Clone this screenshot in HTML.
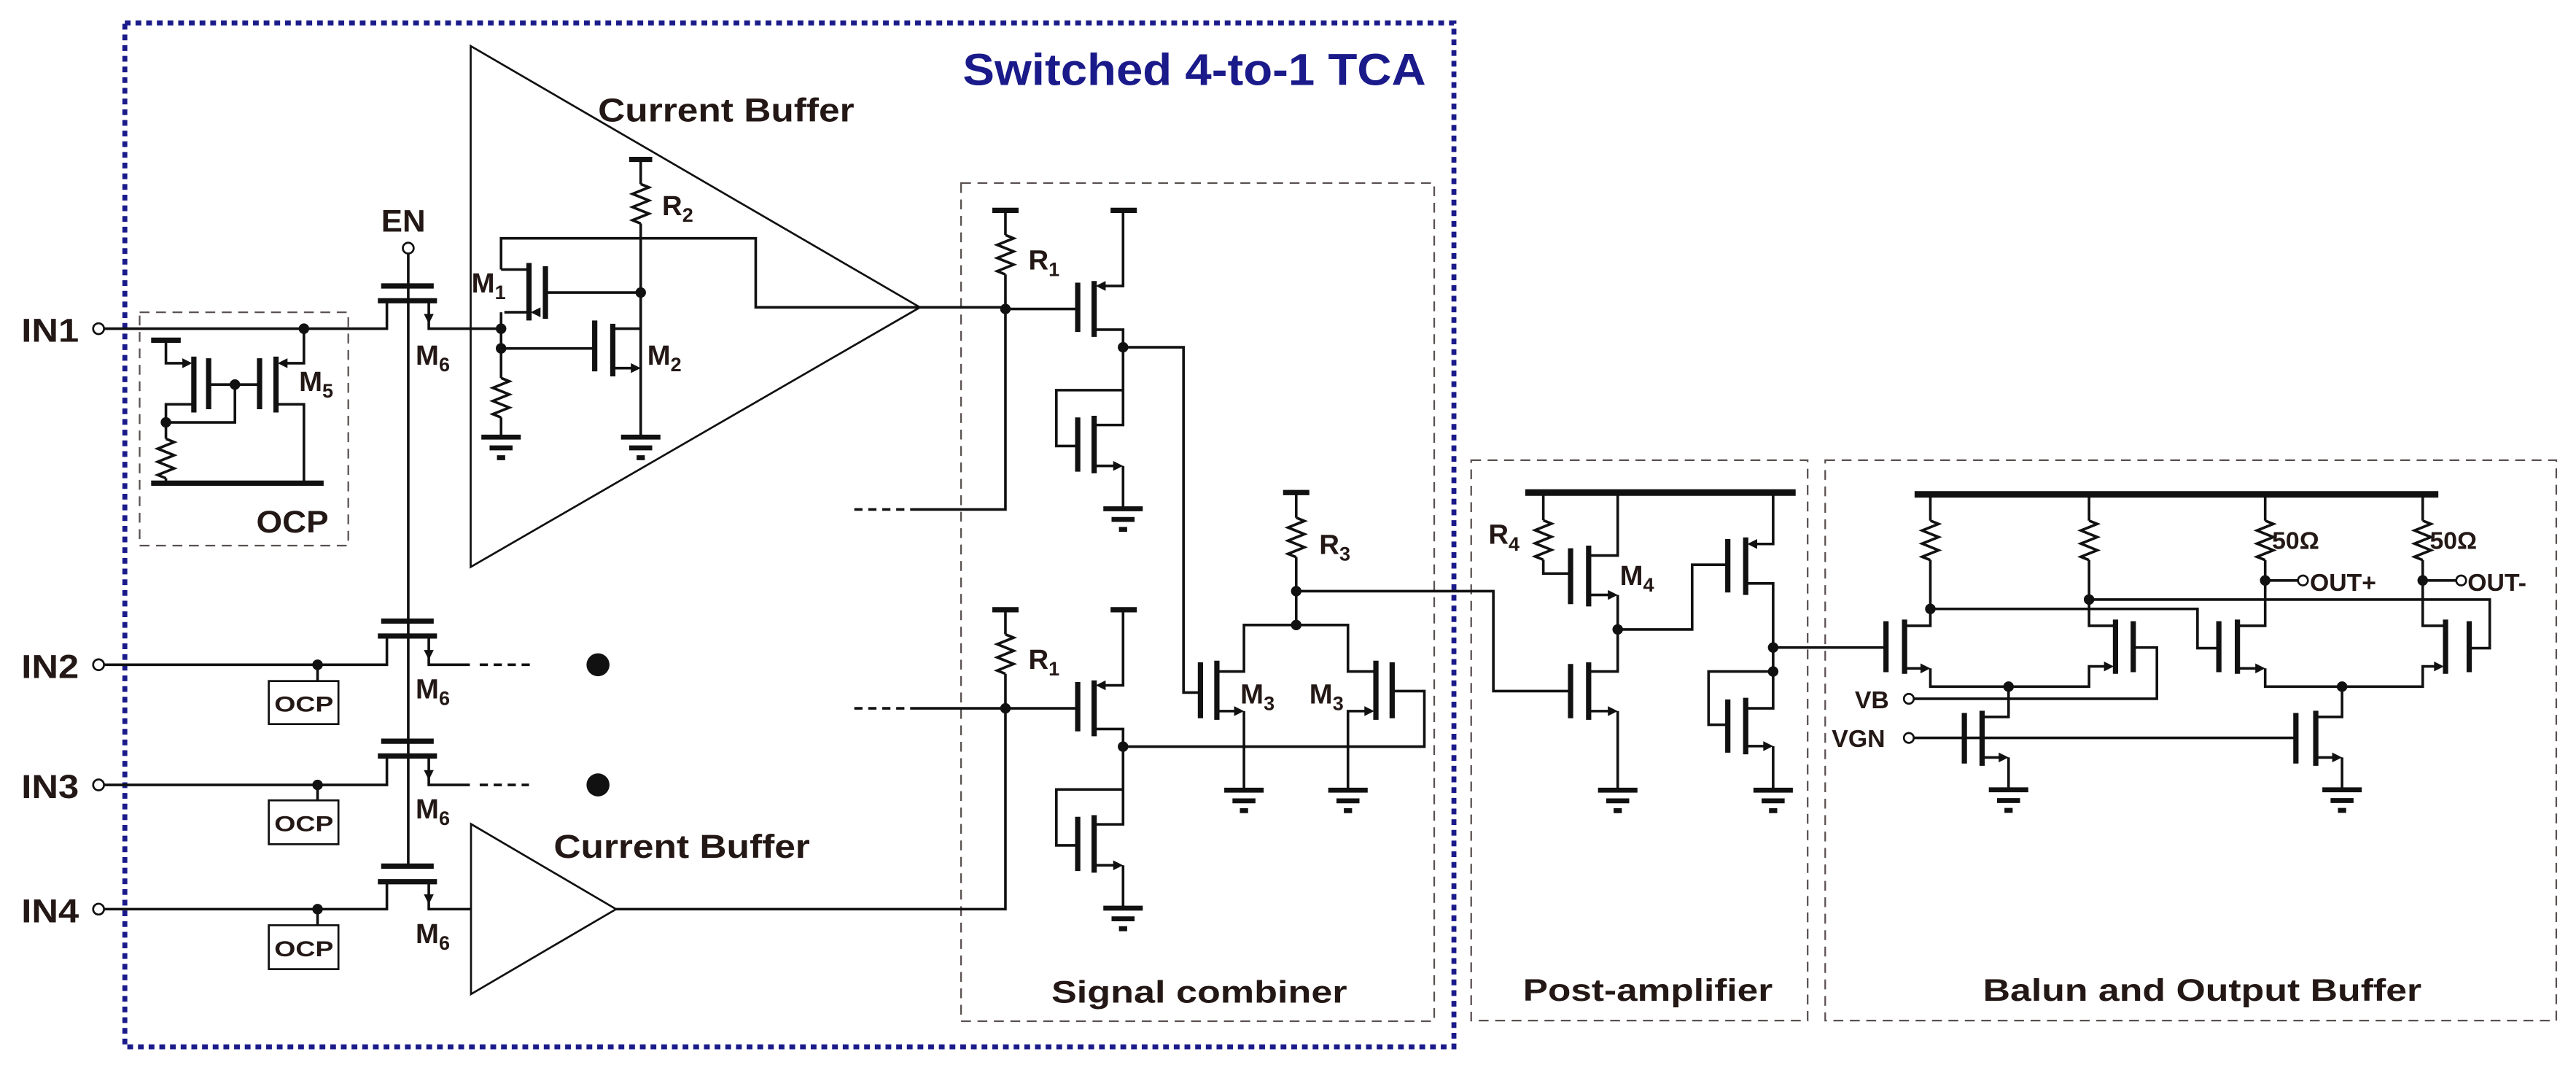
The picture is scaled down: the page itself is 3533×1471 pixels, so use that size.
<!DOCTYPE html>
<html><head><meta charset="utf-8"><style>
html,body{margin:0;padding:0;background:#fff;}
svg{display:block;}
text{font-family:"Liberation Sans",sans-serif;font-weight:bold;fill:#231815;}
</style></head><body>
<svg width="3533" height="1471" viewBox="0 0 1568 652.9" preserveAspectRatio="none" xmlns="http://www.w3.org/2000/svg">
<defs>
<g id="gnd" stroke="#111" stroke-width="3" fill="none"><path d="M-12 0H12M-7 6.5H7M-2.5 12.5H2.5"/></g>
<path id="res" d="M0 0 l5 2 l-10 4 l10 4 l-10 4 l10 4 l-10 4 l5 2" fill="none" stroke="#111" stroke-width="1.6"/>
</defs>
<rect width="1568" height="653" fill="#fff"/>

<!-- boxes -->
<rect x="76" y="14" width="809" height="623" fill="none" stroke="#1a1a8a" stroke-width="3" stroke-dasharray="3.5 3"/>
<g fill="none" stroke="#5a5050" stroke-width="1" stroke-dasharray="6 4">
<rect x="85" y="190" width="127" height="142"/>
<rect x="585" y="111.4" width="288" height="510"/>
<rect x="895.5" y="280" width="204.8" height="341"/>
<rect x="1111" y="280" width="445" height="341"/>
</g>
<text x="586" y="51.8" font-size="27" textLength="282" lengthAdjust="spacingAndGlyphs" style="fill:#1a1a8a">Switched 4-to-1 TCA</text>

<g fill="none" stroke="#111" stroke-width="1.6">
<!-- triangles -->
<path d="M286.5 28 L286.5 345 L560 187 Z" stroke-width="1.2"/>
<path d="M286.7 501.4 L286.7 604.9 L375 553.2 Z" stroke-width="1.2"/>

<!-- IN lines -->
<path d="M63.5 200 H235.5 V183"/>
<path d="M63.5 404.5 H235.5 V387"/>
<path d="M63.5 477.6 H235.5 V460"/>
<path d="M63.5 553.2 H235.5 V536.5"/>
<!-- M6 right terminals -->
<path d="M261 183 V200 H305"/>
<path d="M261 387 V404.5 H286"/>
<path d="M261 460 V477.6 H286"/>
<path d="M261 536.5 V553.2 H286.7"/>
<path d="M292 404.5 H323 M292 477.6 H322" stroke-dasharray="5 3.5"/>
<!-- bus -->
<path d="M248.5 154.5 V526"/>
<!-- OCP small -->
<path d="M193.3 404.5 V414.4 M193.3 477.6 V487 M193.3 553.2 V563"/>
<rect x="163.6" y="414.4" width="42.4" height="26.2" stroke-width="1.2"/>
<rect x="163.6" y="487" width="42.4" height="26.7" stroke-width="1.2"/>
<rect x="163.6" y="563" width="42.4" height="26.7" stroke-width="1.2"/>

<!-- OCP internals -->
<path d="M101 207 V221 H114"/>
<path d="M118 246 H101 V267"/>
<path d="M127 234 H158"/>
<path d="M143 234 V257 H101"/>
<path d="M185 200 V221 H171"/>
<path d="M168 246 H185 V294"/>
<path d="M101 291 V294"/>

<!-- current buffer internals -->
<path d="M390 97 V112 M390 136 V224"/>
<path d="M305 164 V145 H460 V187 H612"/>
<path d="M322 164 H305"/>
<path d="M322 190 H307 M305 190 V230 M305 254 V266"/>
<path d="M332 178 H390"/>
<path d="M305 212 H362"/>
<path d="M373 200 H390"/>
<path d="M373 224 H388 M390 224 V266"/>

<!-- signal combiner unit 1 -->
<path d="M612 128 V143 M612 167 V310 H555"/>
<path d="M520 310 H555" stroke-dasharray="5 3.5"/>
<path d="M612 188 H656"/>
<path d="M683.6 128 V174 H669"/>
<path d="M666 200.6 H683.6 V258.6 H666"/>
<path d="M683.6 211.3 H720.4 V421.4 H730.7"/>
<path d="M683.6 237.4 H643 V271.4 H656"/>
<path d="M666 283.5 H681 M683.6 283.5 V309.6"/>
<!-- unit 2 -->
<path d="M612 371 V386 M612 410 V553.2 H375"/>
<path d="M520 431 H555" stroke-dasharray="5 3.5"/>
<path d="M555 431 H656"/>
<path d="M683.6 371 V417 H669"/>
<path d="M666 443.6 H683.6 V501.6 H666"/>
<path d="M683.6 454.3 H867 V420.5 H847.4"/>
<path d="M683.6 480.4 H643 V514.4 H656"/>
<path d="M666 526.5 H681 M683.6 526.5 V552.6"/>
<!-- M3 pair -->
<path d="M789 300 V315 M789 339 V380.3"/>
<path d="M740.7 408.6 H757.2 V380.3 H820.5 V408.6 H837.5"/>
<path d="M740.7 432.7 H755 M757.2 432.7 V480.8"/>
<path d="M820.5 480.8 V432.7 H835"/>
<path d="M789 359.7 H909 V420.5 H956"/>

<!-- post amp -->
<path d="M939.4 299.7 V316.6 M939.4 340.6 V349 H956"/>
<path d="M984.7 299.7 V338 H967"/>
<path d="M967 362 H982 M984.7 362 V408.6 H967"/>
<path d="M967 432.7 H982 M984.7 432.7 V480.8"/>
<path d="M984.7 383 H1030 V343.6 H1051.7"/>
<path d="M1079.3 299.7 V331 H1066"/>
<path d="M1062.6 355 H1079.3 V431 H1062.6"/>
<path d="M1079.3 408.6 H1040 V441 H1051.7"/>
<path d="M1062.6 454 H1077 M1079.3 454 V480.8"/>
<path d="M1079.3 394 H1148"/>

<!-- balun -->
<path d="M1175 300.8 V316.8 M1175 340.8 V380.8 H1159.3"/>
<path d="M1271.6 300.8 V316.8 M1271.6 340.8 V380.8 H1287.7"/>
<path d="M1378.8 300.8 V316.8 M1378.8 340.8 V380.8 H1361.9"/>
<path d="M1474.7 300.8 V316.8 M1474.7 340.8 V380.8 H1488.6"/>
<path d="M1378.8 353.2 H1398.8 M1474.7 353.2 H1495.1"/>
<path d="M1271.6 364.8 H1515.5 V394.4 H1503"/>
<path d="M1175 370.5 H1337.6 V394.4 H1350.6"/>
<path d="M1159.3 406.7 H1173 M1175 406.7 V417.8 H1271.6 V405.5 H1285"/>
<path d="M1361.9 406.7 H1376.5 M1378.8 406.7 V417.8 H1474.7 V405.5 H1486"/>
<path d="M1298.5 394 H1312.9 V425.2 H1165"/>
<path d="M1222.6 417.8 V436.2 H1206.5"/>
<path d="M1206.5 460.9 H1220 M1222.6 460.9 V480.6"/>
<path d="M1165 449 H1397.5"/>
<path d="M1425.6 417.8 V436.2 H1409.6"/>
<path d="M1409.6 460.9 H1423 M1425.6 460.9 V480.6"/>
</g>

<!-- thick plates / bars -->
<g fill="none" stroke="#111" stroke-width="3.2">
<path d="M232 174 H264 M230 183 H266"/>
<path d="M232 377.9 H264 M230 387 H266"/>
<path d="M232 451 H264 M230 460 H266"/>
<path d="M232 527 H264 M230 536.5 H266"/>
<path d="M92 207 H110 M92 294 H197"/>
<path d="M118 217 V251 M127 218 V249 M158 218 V249 M168 217 V251"/>
<path d="M383 97 H397"/>
<path d="M322 160 V195 M332 162 V194 M362 195 V226 M373 197 V229"/>
<path d="M604 128 H620 M676 128 H692 M604 371 H620 M676 371 H692 M781 299.7 H797"/>
<path d="M656 172 V202 M666 171 V205 M656 254 V287 M666 253 V288"/>
<path d="M656 415 V445 M666 414 V448 M656 497 V530 M666 496 V531"/>
<path d="M730.7 403 V437 M740.7 402 V438 M847.4 403 V437 M837.5 402 V438"/>
<path d="M928.4 299.7 H1093" stroke-width="4"/>
<path d="M956 333.6 V367.6 M967 332 V369 M956 404 V437 M967 403 V438"/>
<path d="M1051.7 328 V360.5 M1062.6 327 V362 M1051.7 425.6 V458 M1062.6 424.6 V459"/>
<path d="M1165.4 300.8 H1484.2" stroke-width="4"/>
<path d="M1148 378 V409 M1159.3 377 V410 M1298.5 378 V409 M1287.7 377 V410"/>
<path d="M1350.6 378 V409 M1361.9 377 V410 M1503 378 V409 M1488.6 377 V410"/>
<path d="M1195.7 433.8 V464.6 M1206.5 432.5 V466 M1397.5 433.8 V464.6 M1409.6 432.5 V466"/>
</g>

<!-- resistors -->
<use href="#res" x="101" y="267"/>
<use href="#res" x="390" y="112"/>
<use href="#res" x="305" y="230"/>
<use href="#res" x="612" y="143"/>
<use href="#res" x="612" y="386"/>
<use href="#res" x="789" y="315"/>
<use href="#res" x="939.4" y="316.6"/>
<use href="#res" x="1175" y="316.8"/>
<use href="#res" x="1271.6" y="316.8"/>
<use href="#res" x="1378.8" y="316.8"/>
<use href="#res" x="1474.7" y="316.8"/>

<!-- grounds -->
<use href="#gnd" x="305" y="266"/>
<use href="#gnd" x="390" y="266"/>
<use href="#gnd" x="683.6" y="309.6"/>
<use href="#gnd" x="683.6" y="552.6"/>
<use href="#gnd" x="757.2" y="480.8"/>
<use href="#gnd" x="820.5" y="480.8"/>
<use href="#gnd" x="984.7" y="480.8"/>
<use href="#gnd" x="1079.3" y="480.8"/>
<use href="#gnd" x="1222.6" y="480.6"/>
<use href="#gnd" x="1425.6" y="480.6"/>

<!-- arrows -->
<g fill="#111">
<polygon points="117,221 111,218 111,224"/>
<polygon points="169,221 175,218 175,224"/>
<polygon points="261,197 258,191 264,191"/>
<polygon points="261,401.5 258,395.5 264,395.5"/>
<polygon points="261,474.6 258,468.6 264,468.6"/>
<polygon points="261,550.2 258,544.2 264,544.2"/>
<polygon points="323,190 329,187 329,193"/>
<polygon points="390,224 384,221 384,227"/>
<polygon points="667,174 673,171 673,177"/>
<polygon points="683.6,283.5 677.6,280.5 677.6,286.5"/>
<polygon points="667,417 673,414 673,420"/>
<polygon points="683.6,526.5 677.6,523.5 677.6,529.5"/>
<polygon points="757.2,432.7 751.2,429.7 751.2,435.7"/>
<polygon points="836.5,432.7 830.5,429.7 830.5,435.7"/>
<polygon points="984.7,362 978.7,359 978.7,365"/>
<polygon points="984.7,432.7 978.7,429.7 978.7,435.7"/>
<polygon points="1063.6,331 1069.6,328 1069.6,334"/>
<polygon points="1079.3,454 1073.3,451 1073.3,457"/>
<polygon points="1175,406.7 1169,403.7 1169,409.7"/>
<polygon points="1286.7,405.5 1280.7,402.5 1280.7,408.5"/>
<polygon points="1378.8,406.7 1372.8,403.7 1372.8,409.7"/>
<polygon points="1487.6,405.5 1481.6,402.5 1481.6,408.5"/>
<polygon points="1222.6,460.9 1216.6,457.9 1216.6,463.9"/>
<polygon points="1425.6,460.9 1419.6,457.9 1419.6,463.9"/>
</g>

<!-- dots -->
<g fill="#111">
<circle cx="185" cy="200" r="3.2"/><circle cx="143" cy="234" r="3.2"/><circle cx="101" cy="257" r="3.2"/>
<circle cx="193.3" cy="404.5" r="3.2"/><circle cx="193.3" cy="477.6" r="3.2"/><circle cx="193.3" cy="553.2" r="3.2"/>
<circle cx="364" cy="404.5" r="7"/><circle cx="364" cy="477.6" r="7"/>
<circle cx="305" cy="200" r="3.2"/><circle cx="305" cy="212" r="3.2"/><circle cx="390" cy="178" r="3.2"/>
<circle cx="612" cy="188" r="3.2"/><circle cx="683.6" cy="211.3" r="3.2"/>
<circle cx="612" cy="431" r="3.2"/><circle cx="683.6" cy="454.3" r="3.2"/>
<circle cx="789" cy="359.7" r="3.2"/><circle cx="789" cy="380.3" r="3.2"/>
<circle cx="984.7" cy="383" r="3.2"/><circle cx="1079.3" cy="394" r="3.2"/><circle cx="1079.3" cy="408.6" r="3.2"/>
<circle cx="1175" cy="370.5" r="3.2"/><circle cx="1271.6" cy="364.8" r="3.2"/>
<circle cx="1378.8" cy="353.2" r="3.2"/><circle cx="1474.7" cy="353.2" r="3.2"/>
<circle cx="1222.6" cy="417.8" r="3.2"/><circle cx="1425.6" cy="417.8" r="3.2"/>
</g>
<!-- terminals -->
<g fill="#fff" stroke="#111" stroke-width="1.2">
<circle cx="60" cy="200" r="3.3"/><circle cx="60" cy="404.5" r="3.3"/><circle cx="60" cy="477.6" r="3.3"/><circle cx="60" cy="553.2" r="3.3"/>
<circle cx="248.5" cy="151" r="3.3"/>
<circle cx="1401.8" cy="353.2" r="3"/><circle cx="1498.1" cy="353.2" r="3"/>
<circle cx="1161.9" cy="425.2" r="3"/><circle cx="1161.9" cy="449" r="3"/>
</g>

<!-- labels -->
<text x="364" y="74" font-size="20" textLength="156" lengthAdjust="spacingAndGlyphs">Current Buffer</text>
<text x="337" y="522" font-size="20" textLength="156" lengthAdjust="spacingAndGlyphs">Current Buffer</text>
<text x="640" y="610" font-size="19" textLength="180" lengthAdjust="spacingAndGlyphs">Signal combiner</text>
<text x="927" y="609" font-size="19" textLength="152" lengthAdjust="spacingAndGlyphs">Post-amplifier</text>
<text x="1207" y="609" font-size="19" textLength="267" lengthAdjust="spacingAndGlyphs">Balun and Output Buffer</text>
<text x="13" y="208" font-size="20" textLength="35" lengthAdjust="spacingAndGlyphs">IN1</text>
<text x="13" y="412.5" font-size="20" textLength="35" lengthAdjust="spacingAndGlyphs">IN2</text>
<text x="13" y="485.6" font-size="20" textLength="35" lengthAdjust="spacingAndGlyphs">IN3</text>
<text x="13" y="561.2" font-size="20" textLength="35" lengthAdjust="spacingAndGlyphs">IN4</text>
<text x="232" y="141" font-size="19" textLength="27" lengthAdjust="spacingAndGlyphs">EN</text>
<text x="156" y="324" font-size="19" textLength="44" lengthAdjust="spacingAndGlyphs">OCP</text>
<text x="167" y="433" font-size="13" textLength="36" lengthAdjust="spacingAndGlyphs">OCP</text>
<text x="167" y="505.8" font-size="13" textLength="36" lengthAdjust="spacingAndGlyphs">OCP</text>
<text x="167" y="581.8" font-size="13" textLength="36" lengthAdjust="spacingAndGlyphs">OCP</text>
<g font-size="17">
<text x="253" y="222">M<tspan font-size="12" dy="4">6</tspan></text>
<text x="253" y="425">M<tspan font-size="12" dy="4">6</tspan></text>
<text x="253" y="498">M<tspan font-size="12" dy="4">6</tspan></text>
<text x="253" y="574">M<tspan font-size="12" dy="4">6</tspan></text>
<text x="182" y="238">M<tspan font-size="12" dy="4">5</tspan></text>
<text x="287" y="178">M<tspan font-size="12" dy="4">1</tspan></text>
<text x="394" y="222">M<tspan font-size="12" dy="4">2</tspan></text>
<text x="403" y="131">R<tspan font-size="12" dy="4">2</tspan></text>
<text x="626" y="164">R<tspan font-size="12" dy="4">1</tspan></text>
<text x="626" y="407">R<tspan font-size="12" dy="4">1</tspan></text>
<text x="803" y="337">R<tspan font-size="12" dy="4">3</tspan></text>
<text x="755" y="428">M<tspan font-size="12" dy="4">3</tspan></text>
<text x="797" y="428">M<tspan font-size="12" dy="4">3</tspan></text>
<text x="906" y="331">R<tspan font-size="12" dy="4">4</tspan></text>
<text x="986" y="356">M<tspan font-size="12" dy="4">4</tspan></text>
</g>
<g font-size="15">
<text x="1383" y="334">50Ω</text>
<text x="1479" y="334">50Ω</text>
<text x="1406" y="359.5">OUT+</text>
<text x="1502" y="359.5">OUT-</text>
<text x="1129" y="431">VB</text>
<text x="1115" y="454.5">VGN</text>
</g>
</svg>
</body></html>
